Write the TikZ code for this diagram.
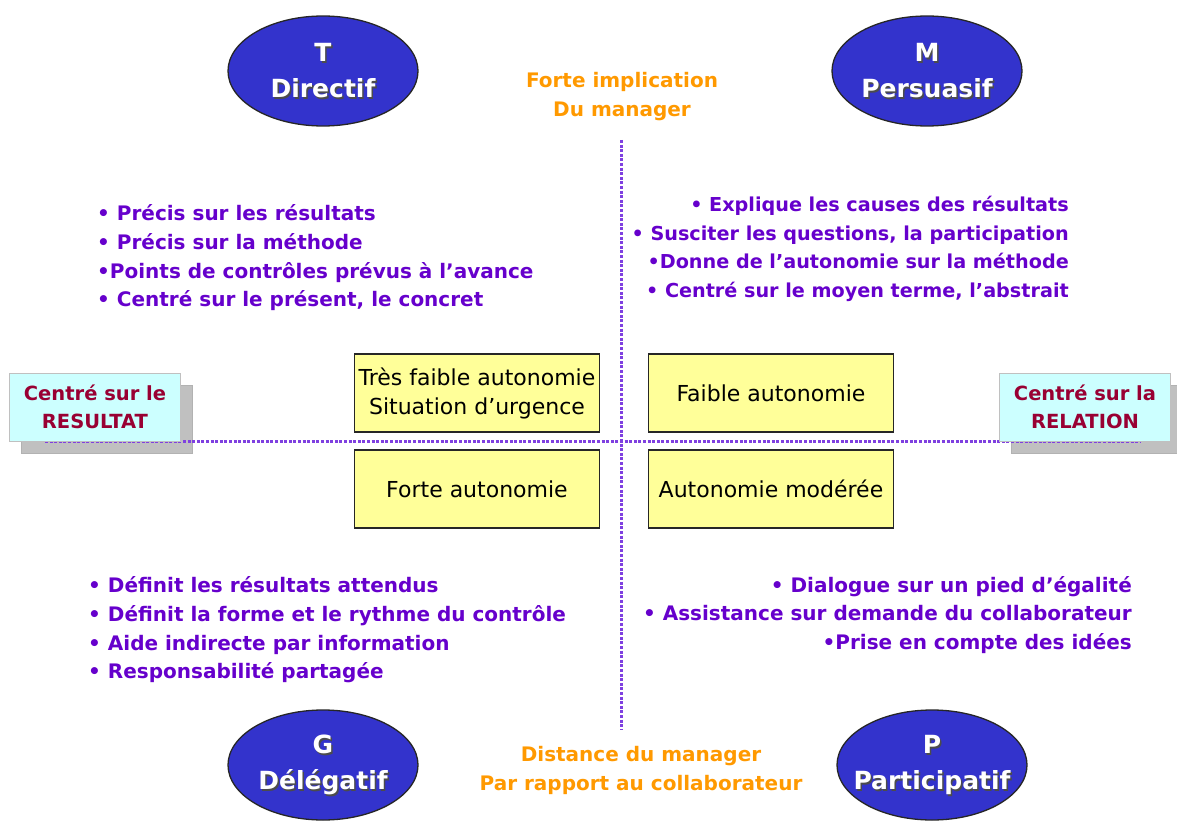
\documentclass[tikz,border=0pt]{standalone}
\usepackage{fontspec}
\setmainfont{DejaVu Sans}
\usepackage{xcolor}
\usetikzlibrary{shapes.geometric}

\definecolor{ovalblue}{HTML}{3333CC}
\definecolor{listpurple}{HTML}{6600CC}
\definecolor{axisorange}{HTML}{FF9900}
\definecolor{sidered}{HTML}{990033}
\definecolor{sidecyan}{HTML}{CCFFFF}
\definecolor{boxyellow}{HTML}{FFFF99}
\definecolor{axisviolet}{HTML}{7F40E0}
\definecolor{shadowgray}{HTML}{C0C0C0}

\begin{document}
\begin{tikzpicture}[x=1pt,y=-1pt,
		oval/.style={ellipse, minimum width=190pt, minimum height=110pt, fill=ovalblue, draw=black!85, line width=1.3pt},
		ovaltext/.style={align=center, text=white, font=\fontsize{25}{36}\selectfont\bfseries},
		ovalshade/.style={ovaltext, text=black!70},
		bullets/.style={text=listpurple, font=\fontsize{20}{28.7}\selectfont\bfseries, inner sep=0pt},
		axisnote/.style={align=center, text=axisorange, font=\fontsize{20}{29}\selectfont\bfseries},
		sidebox/.style={minimum width=171pt, minimum height=68pt, fill=sidecyan, draw=shadowgray, line width=0.8pt, align=center, text=sidered, font=\fontsize{19.5}{28}\selectfont\bfseries},
		sideshade/.style={minimum width=171pt, minimum height=68pt, fill=shadowgray, draw=black!30, line width=0.8pt},
		levelbox/.style={minimum width=245pt, minimum height=78pt, fill=boxyellow, draw=black!85, line width=1.5pt, align=center, inner sep=1pt, font=\fontsize{22}{29}\selectfont},
		axis/.style={axisviolet, line width=3pt, dash pattern=on 3pt off 1.6pt}
	]
	\useasboundingbox (0,0) rectangle (1177,821);
	
	% Styles of management (ovals)
	\node[oval] (directif) at (323,71) {};
	\node[ovalshade] (directifS) at (324.5,72.5) {T\\Directif};
	\node[ovaltext] (directifT) at (323,71) {T\\Directif};
	
	\node[oval] (persuasif) at (927,71) {};
	\node[ovalshade] (persuasifS) at (928.5,72.5) {M\\Persuasif};
	\node[ovaltext] (persuasifT) at (927,71) {M\\Persuasif};
	
	\node[oval] (delegatif) at (323,765) {};
	\node[ovalshade] (delegatifS) at (324.5,766.5) {G\\Délégatif};
	\node[ovaltext] (delegatifT) at (323,765) {G\\Délégatif};
	
	\node[oval] (participatif) at (932,765) {};
	\node[ovalshade] (participatifS) at (933.5,766.5) {P\\Participatif};
	\node[ovaltext] (participatifT) at (932,765) {P\\Participatif};
	
	% Notes on the axes
	\node[axisnote] (implication) at (622,97) {Forte implication\\Du manager};
	\node[axisnote] (distance) at (641,770) {Distance du manager\\Par rapport au collaborateur};
	
	% Shadows of the side boxes
	\node[sideshade] (resultatS) at (107,419) {};
	\node[sideshade] (relationS) at (1097,419) {};
	
	% Axes
	\coordinate (vtop) at (621,140);
	\coordinate (vbottom) at (621,730);
	\coordinate (hleft) at (45,441);
	\coordinate (hright) at (1140,441);
	\draw[axis] (vtop) -- (vbottom);
	\draw[axis] (hleft) -- (hright);
	
	% Side boxes
	\node[sidebox] (resultat) at (95,407) {Centré sur le\\RESULTAT};
	\node[sidebox] (relation) at (1085,407) {Centré sur la\\RELATION};
	
	% Degrees of autonomy
	\node[levelbox] (tresfaible) at (477,393) {Très faible autonomie\\Situation d’urgence};
	\node[levelbox] (faible) at (771,393) {Faible autonomie};
	\node[levelbox] (forte) at (477,489) {Forte autonomie};
	\node[levelbox] (moderee) at (771,489) {Autonomie modérée};
	
	% Behaviours in each quarter
	\node[bullets, align=left, anchor=west] (listT) at (97,258) {• Précis sur les résultats\\• Précis sur la méthode\\•Points de contrôles prévus à l’avance\\• Centré sur le présent, le concret};
	\node[bullets, align=right, anchor=east, font=\fontsize{19.2}{28.7}\selectfont\bfseries] (listM) at (1069,249) {• Explique les causes des résultats\\• Susciter les questions, la participation\\•Donne de l’autonomie sur la méthode\\• Centré sur le moyen terme, l’abstrait};
	\node[bullets, align=left, anchor=west] (listG) at (88,630) {• Définit les résultats attendus\\• Définit la forme et le rythme du contrôle\\• Aide indirecte par information\\• Responsabilité partagée};
	\node[bullets, align=right, anchor=east] (listP) at (1132,615) {• Dialogue sur un pied d’égalité\\• Assistance sur demande du collaborateur\\•Prise en compte des idées};
	
\end{tikzpicture}
\end{document}
